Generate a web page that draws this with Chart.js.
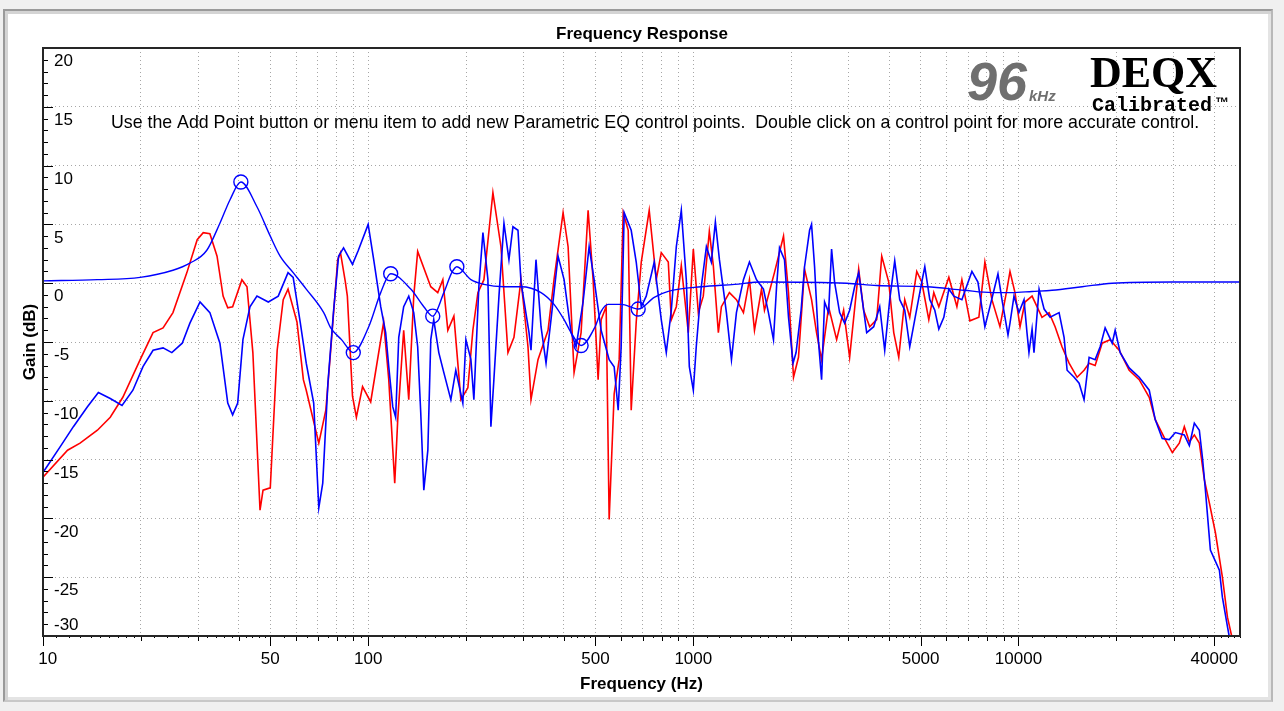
<!DOCTYPE html>
<html>
<head>
<meta charset="utf-8">
<title>Frequency Response</title>
<script src="https://cdn.jsdelivr.net/npm/chart.js@4.4.1/dist/chart.umd.min.js"></script>
<style>
  html, body { margin: 0; padding: 0; background: #f0f0f0; }
  #wrap { position: relative; width: 1284px; height: 711px; overflow: hidden; }
  #panel {
    position: absolute; left: 3px; top: 9px; width: 1266px; height: 689px;
    background: #fff; border: 2px solid #9a9a9a; border-right-color: #b8b8b8; border-bottom-color: #c8c8c8;
    box-shadow: inset 3px 3px 0 #d4d4d4, inset -3px -3px 0 #e4e4e4;
  }
  #chart { position: absolute; left: 0; top: 0; }
</style>
</head>
<body>
<div id="wrap">
  <div id="panel"></div>
  <canvas id="chart" width="1284" height="711"></canvas>
</div>
<script>
// measured response, channel 1 (red)
var freqRed = [10, 11.9, 13.0, 14.7, 16.1, 17.6, 19.9, 21.8, 23.4, 25.1,
  27.7, 29.8, 31.1, 32.6, 34.3, 35.8, 37.0, 38.3, 40.9, 42.4,
  44.2, 46.5, 47.5, 50, 52.5, 54.8, 56.7, 60.4, 63.2, 64.5,
  70.5, 74.1, 76.7, 80.6, 82.2, 85.1, 86.3, 89.5, 92.0, 96.1,
  101.8, 111.6, 115.7, 120.7, 123.3, 128.6, 133.3, 138.1, 142.0, 155.8,
  163.7, 169.7, 175.8, 183.5, 192.8, 202.6, 209.9, 217.5, 227.0, 241.9,
  256.1, 269.1, 280.8, 295.1, 310.1, 316.8, 332.9, 357.4, 372.9, 397.6,
  412.0, 429.8, 451.7, 474.7, 491.8, 509.6, 520.6, 539.4, 551.0, 570.9,
  591.5, 608.6, 630.6, 644.1, 667.4, 691.7, 731.7, 769.1, 796.9, 837.5,
  855.6, 886.5, 918.4, 965.2, 1000, 1036, 1073, 1120, 1152, 1194,
  1220, 1291, 1357, 1426, 1488, 1542, 1621, 1655, 1776, 1894,
  1962, 2033, 2106, 2198, 2310, 2393, 2480, 2606, 2759, 2899,
  3025, 3225, 3341, 3486, 3664, 3797, 3990, 4134, 4283, 4469,
  4630, 4866, 5041, 5299, 5490, 5689, 6107, 6465, 6698, 7088,
  7554, 7883, 8285, 8770, 9218, 9416, 9755, 10110, 10470, 11010,
  11810, 12420, 12960, 13610, 14310, 15150, 15910, 16490, 17210, 18080,
  19140, 20400, 21900, 23510, 25240, 26340, 28280, 29720, 31230, 32360,
  33530, 34740, 35990, 37290, 38650, 40320, 42370, 43920, 45500];
var gainRed = [-16.5, -14.2, -13.6, -12.5, -11.4, -9.7, -6.5, -4.2, -3.8, -2.5,
  0.9, 3.7, 4.3, 4.2, 2.3, -1.1, -2.1, -2.0, 0.3, -0.3,
  -5.9, -19.3, -17.6, -17.4, -5.7, -1.4, -0.5, -3.3, -8.2, -9.1,
  -13.6, -10.8, -5.7, 2.0, 2.6, 0.1, -1.1, -9.6, -11.4, -8.8,
  -10.1, -3.3, -8.2, -17.0, -11.6, -4.0, -9.9, -1.1, 2.7, -0.3,
  -0.8, 0.3, -4.0, -2.8, -9.9, -8.9, -4.0, -0.8, 0.3, 7.7,
  3.1, -5.9, -4.6, 0.3, -5.4, -9.9, -6.5, -4.0, 0.3, 6.0,
  3.1, -7.6, -4.2, 6.2, 0.3, -8.2, -3.1, -2.0, -20.1, -9.4,
  -6.5, 6.0, 4.5, -10.8, -3.3, 1.8, 6.2, 0.3, 2.6, 1.8,
  -3.1, -2.0, 1.5, -4.2, 2.9, -2.5, -1.1, 4.4, 1.5, -4.2,
  -2.0, -0.8, -1.4, -2.5, 0.3, -4.0, -0.5, -2.3, 0.9, 4.0,
  -0.8, -8.0, -6.3, 1.2, -1.4, -4.2, -6.5, -2.0, -4.8, -2.3,
  -6.3, 1.2, -2.3, -3.7, -3.1, 2.3, 0.1, -4.2, -6.3, -1.4,
  -2.9, 1.0, 0.1, -3.1, -0.8, -2.0, 0.5, -2.0, 0.3, -3.2,
  -2.9, 1.8, -1.4, -3.7, -0.5, 1.0, -0.8, -3.7, -1.6, -1.1,
  -2.9, -2.5, -3.7, -5.4, -6.8, -8.0, -7.4, -6.8, -7.0, -5.1,
  -4.8, -5.7, -7.4, -8.2, -9.7, -11.6, -13.3, -14.4, -13.6, -12.2,
  -13.5, -12.9, -13.6, -16.7, -18.7, -21.2, -25.0, -28.4, -30.3];

// measured response, channel 2 (blue)
var freqBlue = [10, 11.3, 12.4, 13.7, 14.8, 16.1, 17.5, 18.9, 20.3, 21.8,
  23.4, 24.9, 26.8, 28.3, 30.4, 32.6, 35.0, 37.0, 38.3, 39.7,
  41.2, 43.3, 45.5, 49.3, 52.9, 56.7, 58.8, 61.8, 64.5, 68.0,
  70.5, 72.5, 75.2, 78.3, 81.1, 84.0, 89.5, 93.3, 100, 104.0,
  109.3, 113.2, 115.7, 119.0, 121.5, 124.2, 128.6, 133.3, 138.1, 142.0,
  145.1, 148.3, 152.6, 155.8, 159.1, 164.9, 170.9, 179.6, 186.0, 195.5,
  199.8, 207.0, 211.4, 219.0, 225.4, 233.5, 238.5, 243.6, 252.5, 261.6,
  271.0, 278.8, 288.9, 295.1, 312.4, 316.8, 328.2, 340.1, 352.4, 365.0,
  383.7, 400.4, 420.8, 436.0, 458.1, 478.1, 495.4, 520.6, 551.0, 570.9,
  587.4, 599.9, 612.9, 644.1, 667.4, 691.7, 716.4, 758.2, 796.9, 825.7,
  855.6, 886.5, 918.4, 951.5, 972.1, 1000, 1021, 1058, 1097, 1136,
  1169, 1203, 1264, 1310, 1357, 1426, 1488, 1564, 1643, 1702,
  1764, 1803, 1841, 1907, 1962, 2026, 2070, 2145, 2198, 2278,
  2310, 2360, 2428, 2480, 2533, 2606, 2662, 2719, 2818, 2920,
  3025, 3134, 3225, 3341, 3413, 3587, 3743, 3878, 4018, 4163,
  4313, 4469, 4630, 4797, 5041, 5151, 5337, 5529, 5689, 5894,
  6107, 6327, 6698, 7190, 7503, 7883, 8169, 8647, 8896, 9284,
  9416, 9686, 10030, 10400, 10620, 10770, 11010, 11160, 11570, 11990,
  12510, 13330, 13810, 14110, 14830, 15360, 15910, 16490, 17210, 17830,
  18470, 19420, 19830, 20550, 21900, 23510, 25240, 26340, 27680, 29090,
  30360, 32360, 33530, 34740, 35990, 36780, 37570, 38920, 41480, 42370,
  43920, 44860];
var gainBlue = [-16.1, -13.9, -12.2, -10.5, -9.3, -9.8, -10.4, -9.1, -7.1, -5.7,
  -5.5, -5.9, -5.1, -3.4, -1.6, -2.5, -5.1, -10.2, -11.2, -10.2,
  -4.8, -2.0, -1.1, -1.6, -1.1, 0.9, 0.5, -3.3, -6.8, -10.2,
  -19.1, -17.0, -8.5, -2.3, 2.3, 3.0, 1.6, 2.8, 5.0, 2.0,
  -2.0, -4.2, -7.1, -10.5, -11.4, -4.6, -2.0, -1.1, -2.5, -5.4,
  -11.0, -17.6, -14.2, -4.8, -3.1, -5.9, -7.6, -9.9, -7.4, -10.2,
  -4.8, -6.5, -9.9, -0.3, 4.3, 0.3, -12.2, -8.2, -1.1, 5.1,
  2.0, 4.8, 4.5, 0.1, -4.2, -5.7, 2.0, -3.7, -6.8, -3.1,
  2.3, 0.3, -4.2, -5.4, -1.6, 3.1, 0.3, -4.0, -6.5, -7.1,
  -10.8, -5.4, 6.0, 4.5, 1.8, -2.0, -1.1, 1.8, -3.1, -5.9,
  -2.3, 3.1, 6.2, 0.3, -7.1, -9.1, -5.4, -0.3, 3.1, 1.8,
  5.2, 2.0, -2.5, -6.5, -2.5, 0.3, 1.8, 0.3, -0.5, -2.5,
  -4.8, -0.3, 3.0, 2.0, -2.9, -6.8, -5.9, -2.3, 1.4, 4.5,
  5.0, 1.4, -5.1, -8.2, -1.6, -2.5, 2.9, 0.1, -2.5, -3.4,
  -2.3, -0.3, 0.9, -2.3, -4.2, -3.7, -2.0, -5.7, -1.4, 1.9,
  -1.4, -2.3, -5.4, -3.1, 0.1, 1.4, -1.4, -2.3, -3.9, -2.9,
  -0.5, -1.1, -1.4, 1.0, 0.1, -3.7, -2.0, 0.8, -1.4, -4.4,
  -3.4, -1.1, -2.5, -1.4, -4.2, -5.9, -3.9, -5.9, -0.5, -2.2,
  -2.9, -2.5, -4.6, -7.4, -8.0, -8.5, -9.9, -6.3, -6.5, -5.4,
  -3.8, -5.1, -4.0, -5.9, -7.2, -8.0, -9.1, -11.6, -13.2, -13.3,
  -12.7, -12.9, -13.8, -11.9, -12.5, -14.8, -17.6, -22.7, -24.4, -26.7,
  -29.2, -30.6];

// parametric EQ curve and its control points
var freqEq = [10, 14.7, 19.9, 25.1, 28.3, 31.9, 35.0, 37.6, 40.6, 45.5,
  50, 53.6, 58.8, 64.5, 73.0, 76.7, 82.8, 90, 100.4, 109.3,
  117.3, 135.2, 148.3, 158.0, 170.9, 180.8, 187.4, 207.0, 227.0, 261.6,
  295.1, 340.1, 372.9, 400.4, 420.8, 451.7, 498.9, 520.6, 547.0, 600,
  676.7, 758.2, 837.5, 1058, 1338, 1621, 2962, 3664, 5225, 6792,
  8285, 9550, 11010, 12680, 15690, 19420, 29720, 48000];
var gainEq = [0.2, 0.3, 0.5, 1.1, 1.7, 2.8, 5.1, 7.1, 8.6, 6.5,
  4.0, 2.3, 0.9, -0.5, -2.5, -3.8, -4.8, -5.9, -3.7, -0.8,
  0.8, -0.5, -2.0, -2.8, -0.8, 0.9, 1.4, 0.3, -0.1, -0.3,
  -0.3, -0.8, -1.8, -3.1, -4.2, -5.3, -3.7, -2.4, -1.8, -1.8,
  -2.2, -1.2, -0.7, -0.3, -0.1, 0.1, 0.0, -0.2, -0.3, -0.6,
  -0.8, -0.8, -0.7, -0.6, -0.3, 0.0, 0.1, 0.1];
var freqPts = [40.6, 90, 117.3, 158, 187.4, 451.7, 676.7];
var gainPts = [8.6, -5.9, 0.8, -2.8, 1.4, -5.3, -2.2];

// axes
var xGridValues = [10, 20, 30, 40, 50, 60, 70, 80, 90,
  100, 200, 300, 400, 500, 600, 700, 800, 900,
  1000, 2000, 3000, 4000, 5000, 6000, 7000, 8000, 9000,
  10000, 20000, 30000, 40000];
var xTickLabels = [10, 50, 100, 500, 1000, 5000, 10000, 40000];
var xMin = 10, xMax = 48000;
var yMin = -30, yMax = 20;

var FONT = '"Liberation Sans", Arial, sans-serif';
var hint = 'Use the Add Point button or menu item to add new Parametric EQ control points.  Double click on a control point for more accurate control.';

function toPoints(fs, gs) {
  return fs.map(function (f, i) { return { x: f, y: gs[i] }; });
}

// tick labels on the gain axis sit inside the plot, just under their grid line
var gainLabels = {
  id: 'gainLabels',
  beforeDatasetsDraw(chart) {
    var ctx = chart.ctx, a = chart.chartArea, y = chart.scales.y;
    ctx.save();
    ctx.font = '17px ' + FONT;
    ctx.fillStyle = '#000';
    ctx.textAlign = 'left';
    ctx.textBaseline = 'middle';
    y.ticks.forEach(function (t) {
      var py = y.getPixelForValue(t.value);
      var dy = t.value === yMin ? -11 : 13.5;
      ctx.fillText(String(t.value), a.left + 11, py + dy);
    });
    // instruction line
    ctx.font = '17.75px ' + FONT;
    ctx.fillText(hint, 111, 123.5);
    ctx.restore();
  }
};

// frame, tick marks and the DEQX badge
var frameAndTicks = {
  id: 'frameAndTicks',
  afterDatasetsDraw(chart) {
    var ctx = chart.ctx, a = chart.chartArea, x = chart.scales.x, y = chart.scales.y;
    ctx.save();
    ctx.strokeStyle = '#000';
    ctx.lineWidth = 1;
    ctx.beginPath();
    for (var v = yMin; v <= yMax; v++) {
      var py = Math.round(y.getPixelForValue(v)) + 0.5;
      ctx.moveTo(a.left, py);
      ctx.lineTo(a.left + (v % 5 === 0 ? 10 : 5), py);
    }
    for (var dec = 10; dec <= 10000; dec *= 10) {
      for (var m = 1; m < 10; m += (m < 2 ? 0.1 : m < 5 ? 0.2 : 0.5)) {
        var f = Math.round(m * 10) / 10 * dec;
        if (f < xMin || f > xMax) continue;
        var px = Math.round(x.getPixelForValue(f)) + 0.5;
        var len = xTickLabels.indexOf(f) >= 0 ? 10 : (Math.abs(m - Math.round(m)) < 1e-6 ? 5 : 2);
        ctx.moveTo(px, a.bottom);
        ctx.lineTo(px, a.bottom + len);
      }
    }
    ctx.stroke();

    ctx.lineWidth = 2;
    ctx.strokeStyle = '#262626';
    ctx.strokeRect(a.left, a.top, a.right - a.left, a.bottom - a.top);

    // badge
    ctx.textAlign = 'left';
    ctx.textBaseline = 'alphabetic';
    ctx.fillStyle = '#6f6f6f';
    ctx.font = 'italic bold 54px ' + FONT;
    ctx.fillText('96', 967, 100);
    ctx.font = 'italic bold 15px ' + FONT;
    ctx.fillText('kHz', 1029, 101);
    ctx.fillStyle = '#000';
    ctx.font = 'bold 44px "Liberation Serif", "Times New Roman", serif';
    ctx.fillText('DEQX', 1090, 87);
    ctx.font = 'bold 20px "Liberation Mono", "Courier New", monospace';
    ctx.fillText('Calibrated', 1092, 111);
    ctx.font = 'bold 14px ' + FONT;
    ctx.fillText('\u2122', 1215, 107);
    ctx.restore();
  }
};

var dotted = { color: '#a6a6a6', lineWidth: 1, drawTicks: false };

new Chart(document.getElementById('chart').getContext('2d'), {
  type: 'line',
  data: {
    datasets: [
      {
        label: 'EQ points',
        data: toPoints(freqPts, gainPts),
        showLine: false,
        pointRadius: 7,
        pointStyle: 'circle',
        pointBorderWidth: 1.4,
        pointBorderColor: '#0000ff',
        pointBackgroundColor: 'rgba(255,255,255,0)'
      },
      {
        label: 'EQ',
        data: toPoints(freqEq, gainEq),
        borderColor: '#0000ff',
        borderWidth: 1.4,
        pointRadius: 0,
        cubicInterpolationMode: 'monotone'
      },
      {
        label: 'Right',
        data: toPoints(freqBlue, gainBlue),
        borderColor: '#0000ff',
        borderWidth: 1.6,
        pointRadius: 0,
        tension: 0
      },
      {
        label: 'Left',
        data: toPoints(freqRed, gainRed),
        borderColor: '#ff0000',
        borderWidth: 1.6,
        pointRadius: 0,
        tension: 0
      }
    ]
  },
  options: {
    responsive: false,
    animation: false,
    devicePixelRatio: 1,
    layout: { padding: 0 },
    plugins: {
      legend: { display: false },
      tooltip: { enabled: false },
      title: {
        display: true,
        text: 'Frequency Response',
        color: '#000',
        font: { family: FONT, size: 17, weight: 'bold' },
        padding: { top: 24, bottom: 3.6 }
      }
    },
    scales: {
      x: {
        type: 'logarithmic',
        min: xMin,
        max: xMax,
        afterBuildTicks: function (s) {
          s.ticks = xGridValues.map(function (v) { return { value: v }; });
        },
        afterFit: function (s) {
          s.height = 75;
          s.paddingLeft = 0;
          s.paddingRight = 0;
        },
        ticks: {
          autoSkip: false,
          maxRotation: 0,
          padding: 13,
          color: '#000',
          font: { family: FONT, size: 17 },
          callback: function (value) {
            if (xTickLabels.indexOf(value) < 0) return '';
            // the first label is nudged right so it stays clear of the frame
            return value === xMin ? '  ' + value : String(value);
          }
        },
        grid: dotted,
        border: { display: false, dash: [1, 3] },
        title: {
          display: true,
          text: 'Frequency (Hz)',
          color: '#000',
          font: { family: FONT, size: 17, weight: 'bold' },
          padding: { top: 0, bottom: 16 }
        }
      },
      y: {
        type: 'linear',
        min: yMin,
        max: yMax,
        afterFit: function (s) {
          s.width = 43;
          s.paddingTop = 0;
          s.paddingBottom = 0;
        },
        ticks: { stepSize: 5, display: false },
        grid: dotted,
        border: { display: false, dash: [1, 3] },
        title: {
          display: true,
          text: 'Gain (dB)',
          color: '#000',
          font: { family: FONT, size: 17, weight: 'bold' },
          padding: { top: 20, bottom: 0 }
        }
      },
      yr: {
        type: 'linear',
        position: 'right',
        afterFit: function (s) { s.width = 44; },
        ticks: { display: false },
        grid: { display: false },
        border: { display: false }
      }
    }
  },
  plugins: [gainLabels, frameAndTicks]
});
</script>
</body>
</html>
